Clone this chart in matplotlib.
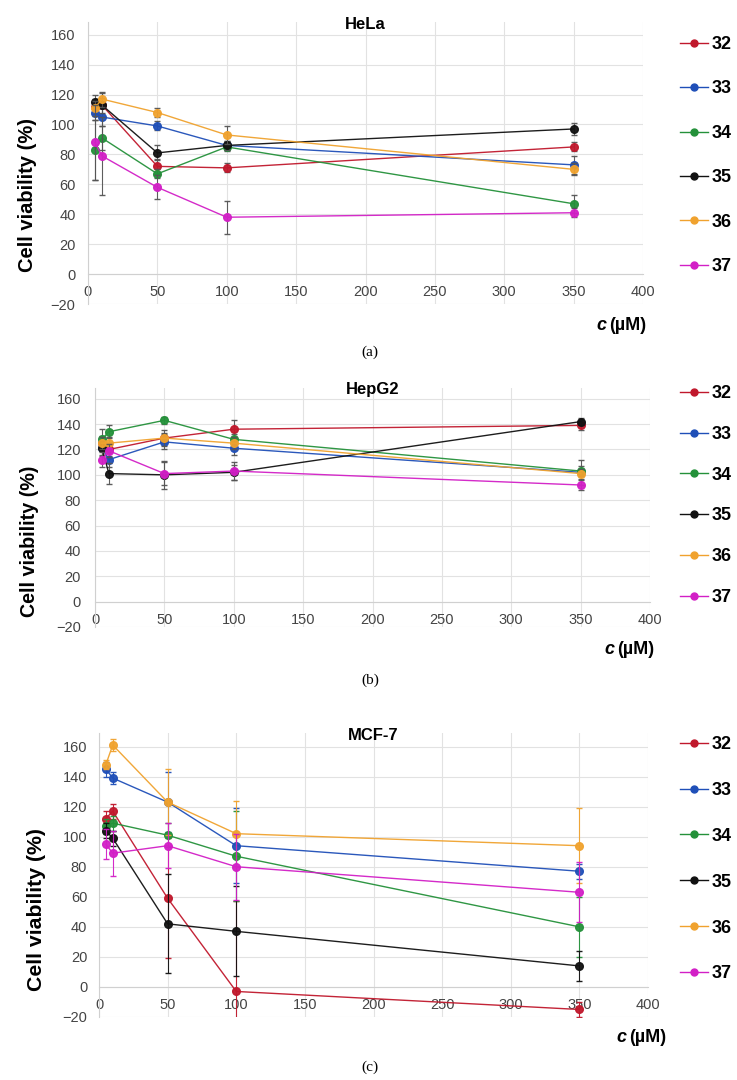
""" cell viability of compounds 32-37 on three cell lines """

import numpy as np
import matplotlib.pyplot as plt
from matplotlib.lines import Line2D

plt.rcParams['font.family'] = ['Liberation Sans', 'DejaVu Sans']

conc = [5, 10, 50, 100, 350]
compounds = ['32', '33', '34', '35', '36', '37']
colors = ['#c0182c', '#1f4fb8', '#24913a', '#111111', '#f0a22e', '#d21fc6']

# HeLa
hela_mean = [
    [112, 113, 72, 71, 85],
    [108, 105, 99, 86, 73],
    [83, 91, 67, 85, 47],
    [115, 113, 81, 86, 97],
    [111, 117, 108, 93, 70],
    [88, 79, 58, 38, 41],
]
hela_err = [
    [5, 8, 5, 3, 3],
    [5, 6, 3, 3, 6],
    [20, 8, 3, 3, 6],
    [5, 5, 5, 3, 4],
    [5, 5, 3, 6, 4],
    [25, 26, 8, 11, 3],
]

# HepG2
hepg2_mean = [
    [125, 120, 129, 136, 139],
    [121, 112, 126, 121, 102],
    [128, 134, 143, 128, 103],
    [121, 101, 100, 102, 142],
    [125, 125, 129, 125, 101],
    [112, 119, 101, 103, 92],
]
hepg2_err = [
    [6, 5, 4, 7, 4],
    [5, 6, 6, 5, 10],
    [8, 5, 3, 4, 4],
    [6, 8, 11, 6, 3],
    [5, 5, 6, 5, 4],
    [6, 5, 9, 7, 4],
]

# MCF-7
mcf7_mean = [
    [112, 117, 59, -3, -15],
    [145, 139, 123, 94, 77],
    [107, 109, 101, 87, 40],
    [104, 99, 42, 37, 14],
    [148, 161, 123, 102, 94],
    [95, 89, 94, 80, 63],
]
mcf7_err = [
    [5, 5, 40, 60, 5],
    [5, 4, 20, 25, 5],
    [5, 5, 8, 30, 20],
    [5, 5, 33, 30, 10],
    [3, 4, 22, 22, 25],
    [10, 15, 15, 22, 20],
]

titles = ['HeLa', 'HepG2', 'MCF-7']
panel_tags = ['(a)', '(b)', '(c)']

W, H = 737, 1080
fig = plt.figure(figsize=(W / 100, H / 100), dpi=100)

# axes boxes in pixels: left, right, top, bottom
boxes = [(88, 643, 22, 304), (95, 650, 388, 627), (99, 648, 733, 1017)]
ylims = [(-20, 168.5), (-20, 168.5), (-20, 169)]
legend_top = [36, 385, 736]
legend_space = [1.52, 1.32, 1.6]
cunit_xy = [(622, 325), (630, 650), (642, 1038)]
tag_y = [352, 680, 1067]
ylabel_xy = [(28, 195), (30, 541), (37, 910)]
ylabel_size = [14.5, 14.2, 15.3]
ytick_pad = [9, 10, 8.5]

data = [(hela_mean, hela_err), (hepg2_mean, hepg2_err), (mcf7_mean, mcf7_err)]

for p, (means, errs) in enumerate(data):
    l, r, t, b = boxes[p]
    ax = fig.add_axes([l / W, 1 - b / H, (r - l) / W, (b - t) / H])
    for i, name in enumerate(compounds):
        ecol = '#555555' if p < 2 else colors[i]
        ax.errorbar(conc, means[i], yerr=errs[i], color=colors[i], lw=1.0,
                    marker='o', ms=5.5, mec=colors[i], ecolor=ecol,
                    elinewidth=0.8, capsize=2, alpha=0.95, zorder=3 + i)
    ax.set_xlim(0, 400)
    ax.set_ylim(*ylims[p])
    ax.set_xticks(np.arange(0, 401, 50))
    ax.set_yticks(np.arange(-20, 161, 20))
    ax.set_yticklabels([str(v).replace('-', '\u2212') for v in range(-20, 161, 20)])
    ax.grid(True, color='#e2e2e2', lw=0.8, zorder=0)
    ax.set_axisbelow(True)
    for s in ['top', 'right']:
        ax.spines[s].set_visible(False)
    ax.spines['bottom'].set_position(('data', 0))
    ax.spines['bottom'].set_color('#d0d0d0')
    ax.spines['left'].set_color('#d0d0d0')
    ax.tick_params(length=0, labelsize=10.5, colors='#444444')
    ax.tick_params(axis='x', pad=8)
    ax.tick_params(axis='y', pad=ytick_pad[p])
    ax.set_title(titles[p], fontsize=12, fontweight='bold', pad=-2, y=0.985)
    fig.text(ylabel_xy[p][0] / W, 1 - ylabel_xy[p][1] / H, 'Cell viability (%)',
             rotation=90, fontsize=ylabel_size[p], fontweight='bold',
             ha='center', va='center')

    handles = [Line2D([], [], color=c, lw=1.0, marker='o', ms=5) for c in colors]
    ax.legend(handles, compounds, loc='upper left',
              bbox_to_anchor=(680 / W, 1 - legend_top[p] / H),
              bbox_transform=fig.transFigure, frameon=False, borderpad=0,
              borderaxespad=0, prop={'weight': 'bold', 'size': 13},
              handlelength=1.55, handletextpad=0.2,
              labelspacing=legend_space[p])

    cx, cy = cunit_xy[p]
    fig.text((cx - 16) / W, 1 - cy / H, 'c', fontsize=13, fontweight='bold',
             style='italic', ha='right', va='center')
    fig.text((cx - 13) / W, 1 - cy / H, '(µM)', fontsize=13, fontweight='bold',
             ha='left', va='center')
    fig.text(370 / W, 1 - tag_y[p] / H, panel_tags[p], fontsize=11,
             family='Liberation Serif', ha='center', va='center')

fig.savefig('out.png', dpi=100)
